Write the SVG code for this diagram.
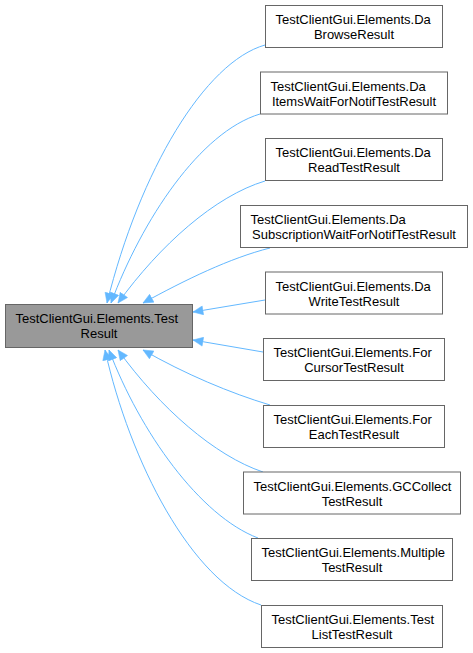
<svg xmlns="http://www.w3.org/2000/svg" width="473" height="653" viewBox="0 0 473 653">
<style>
  .node rect { fill: #ffffff; stroke: #666666; stroke-width: 1; }
  #main rect { fill: #999999; stroke: #666666; }
  text { font-family: "Liberation Sans", Arial, sans-serif; font-size: 13px; fill: #000000; }
  .s { text-anchor: start; }
  .m { text-anchor: middle; }
  .edge { fill: none; stroke: #63b8ff; stroke-width: 1; marker-end: url(#ah); }
</style>
<defs>
  <marker id="ah" viewBox="0 0 10 10" refX="10" refY="5" markerWidth="11" markerHeight="10" markerUnits="userSpaceOnUse" orient="auto">
    <path d="M0,0.5 L10,5 L0,9.5 Z" fill="#63b8ff" stroke="#63b8ff" stroke-width="0.5"/>
  </marker>
</defs>
<rect width="473" height="653" fill="#ffffff"/>
<g id="edges">
  <path class="edge" d="M265,45 C205,62 140,170 107,303"/>
  <path class="edge" d="M260,114 C200,132 142,220 111,303"/>
  <path class="edge" d="M265,181 C215,196 160,245 118,303"/>
  <path class="edge" d="M270,248 C230,258 185,280 143,303"/>
  <path class="edge" d="M265,300 L193,312"/>
  <path class="edge" d="M263,352 L193,340"/>
  <path class="edge" d="M270,405 C230,393 185,374 143,350"/>
  <path class="edge" d="M263,472 C215,456 160,408 118,350"/>
  <path class="edge" d="M258,538 C200,516 140,432 109,350"/>
  <path class="edge" d="M261,605 C192,582 130,462 105,350"/>
</g>
<g id="main" class="node">
  <rect x="5.5" y="304.5" width="187" height="43"/>
  <text class="s" x="15.5" y="323">TestClientGui.Elements.Test</text>
  <text class="m" x="99" y="338">Result</text>
</g>
<g id="n1" class="node">
  <rect x="265.5" y="5.5" width="177" height="42"/>
  <text class="s" x="275.5" y="24">TestClientGui.Elements.Da</text>
  <text class="m" x="354" y="39">BrowseResult</text>
</g>
<g id="n2" class="node">
  <rect x="260.5" y="72" width="187" height="42"/>
  <text class="s" x="270.5" y="90.5">TestClientGui.Elements.Da</text>
  <text class="m" x="354" y="105.5">ItemsWaitForNotifTestResult</text>
</g>
<g id="n3" class="node">
  <rect x="265.5" y="138.5" width="177" height="42"/>
  <text class="s" x="275.5" y="157">TestClientGui.Elements.Da</text>
  <text class="m" x="354" y="172">ReadTestResult</text>
</g>
<g id="n4" class="node">
  <rect x="240.5" y="205.5" width="227" height="42"/>
  <text class="s" x="250.5" y="224">TestClientGui.Elements.Da</text>
  <text class="m" x="354" y="239">SubscriptionWaitForNotifTestResult</text>
</g>
<g id="n5" class="node">
  <rect x="265.5" y="272" width="177" height="42"/>
  <text class="s" x="275.5" y="290.5">TestClientGui.Elements.Da</text>
  <text class="m" x="354" y="305.5">WriteTestResult</text>
</g>
<g id="n6" class="node">
  <rect x="263.5" y="338.5" width="181" height="42"/>
  <text class="s" x="273.5" y="357">TestClientGui.Elements.For</text>
  <text class="m" x="354" y="372">CursorTestResult</text>
</g>
<g id="n7" class="node">
  <rect x="263.5" y="405.5" width="181" height="42"/>
  <text class="s" x="273.5" y="424">TestClientGui.Elements.For</text>
  <text class="m" x="354" y="439">EachTestResult</text>
</g>
<g id="n8" class="node">
  <rect x="243.5" y="472" width="217" height="42"/>
  <text class="s" x="253.5" y="490.5">TestClientGui.Elements.GCCollect</text>
  <text class="m" x="352" y="505.5">TestResult</text>
</g>
<g id="n9" class="node">
  <rect x="251.5" y="538.5" width="201" height="42"/>
  <text class="s" x="261.5" y="557">TestClientGui.Elements.Multiple</text>
  <text class="m" x="352" y="572">TestResult</text>
</g>
<g id="n10" class="node">
  <rect x="261.5" y="605.5" width="181" height="42"/>
  <text class="s" x="271.5" y="624">TestClientGui.Elements.Test</text>
  <text class="m" x="352" y="639">ListTestResult</text>
</g>
</svg>
